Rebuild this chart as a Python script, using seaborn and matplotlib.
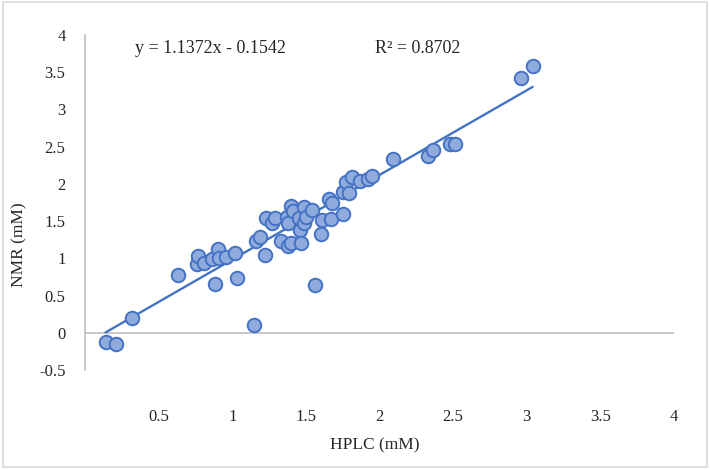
import numpy as np
import pandas as pd
import seaborn as sns
import matplotlib.pyplot as plt
from matplotlib.patches import Rectangle

# HPLC vs NMR concentrations (mM)
hplc = [0.14, 0.21, 0.32, 0.63, 0.76, 0.77, 0.81, 0.86, 0.88, 0.90,
        0.91, 0.96, 1.02, 1.03, 1.15, 1.16, 1.19, 1.22, 1.23, 1.27,
        1.29, 1.33, 1.37, 1.38, 1.38, 1.40, 1.40, 1.41, 1.45, 1.46,
        1.47, 1.49, 1.49, 1.50, 1.54, 1.56, 1.60, 1.61, 1.66, 1.67,
        1.68, 1.75, 1.75, 1.77, 1.79, 1.81, 1.87, 1.92, 1.95, 2.09,
        2.33, 2.36, 2.48, 2.51, 2.96, 3.04]
nmr = [-0.13, -0.15, 0.20, 0.77, 0.93, 1.03, 0.94, 0.99, 0.66, 1.12,
       1.00, 1.02, 1.07, 0.74, 0.11, 1.23, 1.29, 1.05, 1.54, 1.48,
       1.54, 1.23, 1.56, 1.47, 1.17, 1.20, 1.70, 1.63, 1.54, 1.38,
       1.20, 1.69, 1.48, 1.55, 1.65, 0.64, 1.33, 1.51, 1.80, 1.53,
       1.74, 1.60, 1.89, 2.02, 1.88, 2.09, 2.04, 2.06, 2.11, 2.34,
       2.38, 2.46, 2.53, 2.54, 3.42, 3.59]

slope = 1.1372
intercept = -0.1542
r2 = 0.8702

x_ticks = [0.5, 1, 1.5, 2, 2.5, 3, 3.5, 4]
y_ticks = [-0.5, 0, 0.5, 1, 1.5, 2, 2.5, 3, 3.5, 4]

df = pd.DataFrame({"HPLC": hplc, "NMR": nmr})

sns.set_style("white")
plt.rcParams["font.family"] = ["Liberation Serif", "DejaVu Serif"]

fig = plt.figure(figsize=(7.1, 4.69), dpi=100)
ax = fig.add_axes([85 / 710, 99 / 469, 589 / 710, 335 / 469])

grey = "#bfbfbf"
txt = "#262626"
ax.axhline(0, color=grey, lw=1.2, zorder=1)

# trend line over the range of the data
xs = np.array([min(hplc), max(hplc)])
ax.plot(xs, slope * xs + intercept, color="#4472C4", lw=1.7, zorder=2)

sns.scatterplot(data=df, x="HPLC", y="NMR", ax=ax, s=95,
                color="#8FAADC", edgecolor="#4472C4", linewidth=1.4, zorder=3)

ax.set_xlim(0, 4)
ax.set_ylim(-0.5, 4)
ax.set_xticks(x_ticks)
ax.set_xticklabels([f"{t:g}" for t in x_ticks])
ax.set_yticks(y_ticks)
ax.set_yticklabels([f"{t:g}" for t in y_ticks])
ax.tick_params(axis="x", length=0, pad=28, labelsize=12, colors=txt)
ax.tick_params(axis="y", length=0, pad=14, labelsize=12, colors=txt)

for side in ["top", "right", "bottom"]:
    ax.spines[side].set_visible(False)
ax.spines["left"].set_color(grey)
ax.spines["left"].set_linewidth(1.2)

ax.set_xlabel("HPLC (mM)", fontsize=12.5, color=txt)
ax.set_ylabel("NMR (mM)", fontsize=12.5, color=txt)
ax.xaxis.set_label_coords(0.492, -0.2)
ax.yaxis.set_label_coords(-0.097, 0.373)

ax.text(0.85, 3.82, f"y = {slope}x - {abs(intercept)}", fontsize=13,
        ha="center", va="center", color=txt)
ax.text(2.26, 3.82, f"R² = {r2}", fontsize=13,
        ha="center", va="center", color=txt)

fig.patches.append(Rectangle((0.004, 0.005), 0.992, 0.99, transform=fig.transFigure,
                             fill=False, edgecolor="#d9d9d9", lw=1.2))

fig.savefig("out.png", dpi=100)
